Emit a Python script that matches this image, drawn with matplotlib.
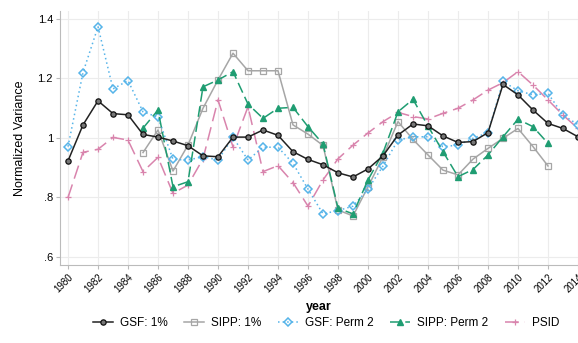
import numpy as np
import matplotlib.pyplot as plt

plt.rcParams['font.family'] = ['Liberation Sans', 'DejaVu Sans']

nan = np.nan
years = list(range(1980, 2015))

# normalized variance by series
gsf_1 = [0.923, 1.044, 1.125, 1.082, 1.078, 1.012, 1.003, 0.990, 0.974, 0.940,
         0.937, 1.003, 1.003, 1.027, 1.009, 0.954, 0.928, 0.910, 0.883, 0.869,
         0.896, 0.940, 1.010, 1.047, 1.041, 1.007, 0.985, 0.988, 1.018, 1.180,
         1.145, 1.094, 1.049, 1.032, 1.004]
sipp_1 = [nan, nan, nan, nan, nan, 0.951, 1.027, 0.889, 0.976, 1.100,
          1.195, 1.285, 1.226, 1.226, 1.226, 1.044, 1.013, 0.975, 0.758, 0.738,
          0.836, 0.937, 1.055, 0.995, 0.943, 0.892, 0.876, 0.929, 0.965, 0.999,
          1.032, 0.971, 0.906, nan, nan]
gsf_perm2 = [0.971, 1.220, 1.374, 1.165, 1.193, 1.088, 1.070, 0.928, 0.926, 0.937,
             0.926, 1.002, 0.926, 0.969, 0.969, 0.915, 0.828, 0.745, 0.756, 0.771,
             0.828, 0.906, 0.993, 1.004, 1.004, 0.971, 0.976, 0.999, 1.018, 1.190,
             1.159, 1.145, 1.150, 1.077, 1.045]
sipp_perm2 = [nan, nan, nan, nan, nan, 1.033, 1.094, 0.836, 0.853, 1.172,
              1.195, 1.223, 1.114, 1.066, 1.100, 1.103, 1.038, 0.980, 0.764, 0.745,
              0.859, 0.950, 1.088, 1.130, 1.040, 0.954, 0.870, 0.894, 0.943, 1.004,
              1.063, 1.038, 0.982, nan, nan]
psid = [0.800, 0.952, 0.962, 1.002, 0.993, 0.887, 0.935, 0.814, 0.842, 0.930,
        1.128, 0.970, 1.105, 0.887, 0.907, 0.850, 0.771, 0.859, 0.930, 0.976,
        1.017, 1.055, 1.086, 1.072, 1.064, 1.083, 1.100, 1.128, 1.161, 1.186,
        1.223, 1.178, 1.128, 1.077, 1.032]

fig = plt.figure(figsize=(5.78, 3.43), dpi=100)
ax = fig.add_axes([60 / 578, 78 / 343, 518 / 578, 254 / 343])

ax.plot(years, gsf_1, color='#222222', lw=1.1, marker='o', ms=3.8,
        mfc='#777777', mec='#111111', mew=0.9, label='GSF: 1%', zorder=5)
ax.plot(years, sipp_1, color='#a6a6a6', lw=1.1, marker='s', ms=3.8,
        mfc='none', mec='#a6a6a6', mew=0.9, label='SIPP: 1%', zorder=3)
ax.plot(years, gsf_perm2, color='#56b4e9', lw=1.1, ls=(0, (1, 2)), marker='D', ms=3.8,
        mfc='none', mec='#56b4e9', mew=1.1, label='GSF: Perm 2', zorder=4)
ax.plot(years, sipp_perm2, color='#1f9d72', lw=1.1, ls=(0, (7, 3)), marker='^', ms=3.8,
        mfc='#1f9d72', mec='#1f9d72', label='SIPP: Perm 2', zorder=4)
ax.plot(years, psid, color='#d984ad', lw=1.1, ls=(0, (9, 4)), marker='+', ms=4,
        mew=0.9, label='PSID', zorder=2)

ax.set_xlim(1980 - 8 / 15, 2014)
ax.set_ylim(0.6 - 8 / 297.5, 1.4 + 8 / 297.5)
ax.set_xticks(range(1980, 2015, 2))
ax.set_xticklabels([str(y) for y in range(1980, 2015, 2)], rotation=45,
                   ha='right', rotation_mode='anchor', fontsize=7)
ax.set_yticks([0.6, 0.8, 1.0, 1.2, 1.4])
ax.set_yticklabels(['.6', '.8', '1', '1.2', '1.4'], fontsize=8)
ax.grid(True, color='#ececec', lw=0.8)
ax.set_axisbelow(True)
for s in ['top', 'right']:
    ax.spines[s].set_visible(False)
for s in ['left', 'bottom']:
    ax.spines[s].set_color('#bbbbbb')
    ax.spines[s].set_linewidth(0.8)
ax.tick_params(axis='both', color='#bbbbbb', length=3, width=0.8, pad=2)

ax.set_xlabel('year', fontsize=9, fontweight='bold', labelpad=5)
ax.set_ylabel('Normalized Variance', fontsize=9, labelpad=8)

fig.legend(loc='center', bbox_to_anchor=(326 / 578, 1 - 323 / 343), ncol=5,
           frameon=False, fontsize=8.5, handlelength=1.7, columnspacing=1.4,
           handletextpad=0.6)

fig.savefig('out.png', dpi=100)
